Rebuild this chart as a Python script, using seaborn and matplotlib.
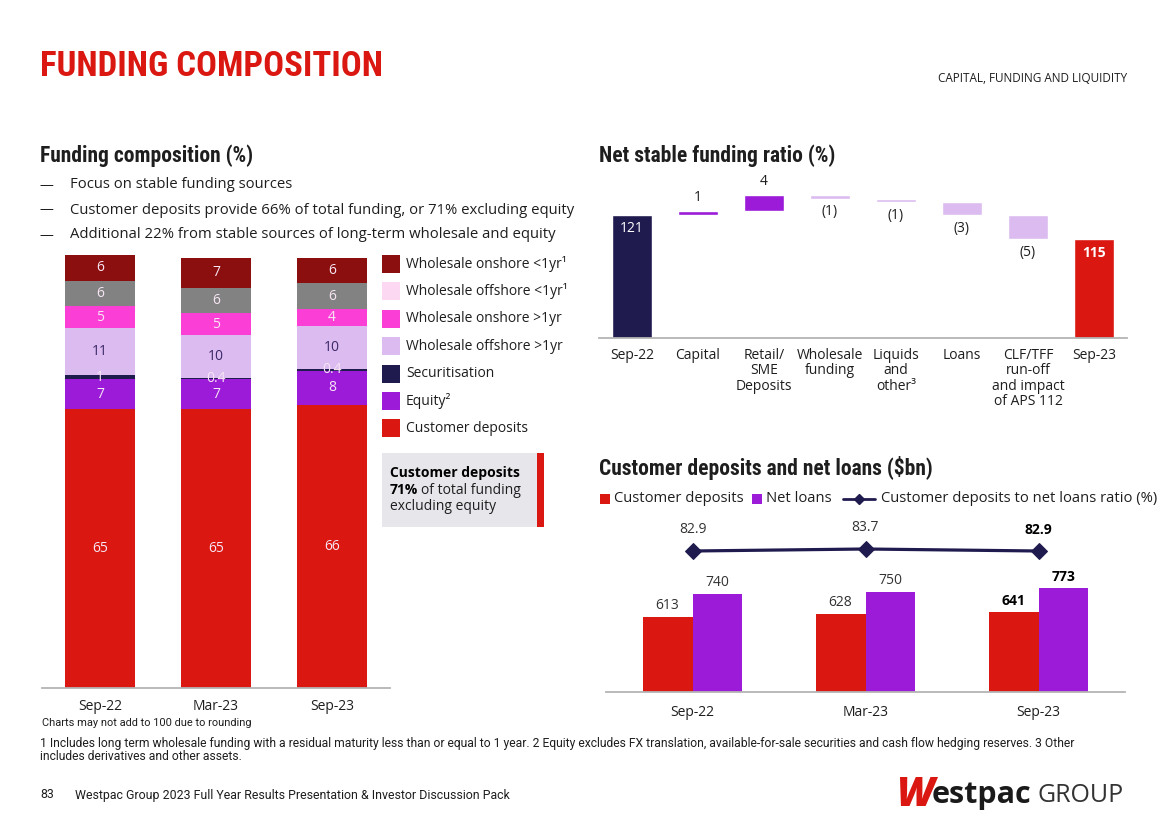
import matplotlib
matplotlib.use('Agg')
import matplotlib.pyplot as plt
import seaborn as sns
import pandas as pd
import numpy as np
from matplotlib import font_manager
from matplotlib.patches import Rectangle
from matplotlib.lines import Line2D

# ---- data -------------------------------------------------------------
periods = ['Sep-22', 'Mar-23', 'Sep-23']

segments = ['Customer deposits', 'Equity²', 'Securitisation', 'Wholesale offshore >1yr',
            'Wholesale onshore >1yr', 'Wholesale offshore <1yr¹', 'Wholesale onshore <1yr¹']
customer_deposits = [65, 65, 66]
equity = [7, 7, 8]
securitisation = [1, 0.4, 0.4]
wholesale_offshore_gt1 = [11, 10, 10]
wholesale_onshore_gt1 = [5, 5, 4]
wholesale_offshore_lt1 = [6, 6, 6]
wholesale_onshore_lt1 = [6, 7, 6]

nsfr_start = 121
nsfr_end = 115
nsfr_steps = ['Capital', 'Retail/\nSME\nDeposits', 'Wholesale\nfunding', 'Liquids\nand\nother³',
              'Loans', 'CLF/TFF\nrun-off\nand impact\nof APS 112']
nsfr_change = [1.1, 4.0, -1.0, -0.9, -3.2, -6.1]
nsfr_change_labels = ['1', '4', '(1)', '(1)', '(3)', '(5)']

deposits_bn = [613, 628, 641]
net_loans_bn = [740, 750, 773]
dep_loan_ratio = [82.9, 83.7, 82.9]

# ---- colours ----------------------------------------------------------
RED = '#da1710'
DARKRED = '#8c0f0f'
GREY = '#828282'
PALEPINK = '#fdd8f3'
PINK = '#fb3fd6'
LILAC = '#dcbcf0'
NAVY = '#201b4f'
PURPLE = '#9b1bd8'
TXT = '#1e1e1e'

sns.set_theme(style='white')
avail = {f.name for f in font_manager.fontManager.ttflist}


def pick(*names):
    for n in names:
        if n in avail:
            return n
    return 'DejaVu Sans'


BODY = pick('Open Sans', 'Lato', 'Noto Sans')
NARROW = pick('Roboto Condensed', 'Liberation Sans Narrow', 'DejaVu Sans')
SMALL = pick('Roboto', 'Liberation Sans', 'DejaVu Sans')
plt.rcParams['font.family'] = [BODY, 'DejaVu Sans']
plt.rcParams['text.color'] = TXT

W, H = 1168, 825
fig = plt.figure(figsize=(W / 100, H / 100), dpi=100, facecolor='white')
renderer = fig.canvas.get_renderer()


def add_ax(x0, y0, x1, y1):
    return fig.add_axes([x0 / W, 1 - y1 / H, (x1 - x0) / W, (y1 - y0) / H])


def ftext(x, y, s, **kw):
    kw.setdefault('va', 'center')
    return fig.text(x / W, 1 - y / H, s, **kw)


def right_of(t, gap=0):
    return t.get_window_extent(renderer).x1 + gap


def frect(x0, y0, x1, y1, color):
    fig.patches.append(Rectangle((x0 / W, 1 - y1 / H), (x1 - x0) / W, (y1 - y0) / H,
                                 transform=fig.transFigure, color=color, lw=0))


def style_axis(ax):
    for s in ['top', 'right', 'left']:
        ax.spines[s].set_visible(False)
    ax.spines['bottom'].set_color('#b4b4b4')
    ax.spines['bottom'].set_linewidth(1.3)
    ax.set_yticks([])
    ax.set_xlabel('')
    ax.set_ylabel('')
    ax.tick_params(axis='x', length=0, labelsize=10, labelcolor=TXT)


# ---- page text --------------------------------------------------------
ftext(40, 67, 'FUNDING COMPOSITION', family=NARROW, weight='bold', size=25, color=RED)
ftext(1127, 78, 'CAPITAL, FUNDING AND LIQUIDITY', size=8.5, ha='right')
ftext(40, 156, 'Funding composition (%)', family=NARROW, weight='bold', size=15.5)
ftext(599, 156, 'Net stable funding ratio (%)', family=NARROW, weight='bold', size=15.5)
ftext(599, 468, 'Customer deposits and net loans ($bn)', family=NARROW, weight='bold', size=15.5)

bullets = ['Focus on stable funding sources',
           'Customer deposits provide 66% of total funding, or 71% excluding equity',
           'Additional 22% from stable sources of long-term wholesale and equity']
for i, b in enumerate(bullets):
    ftext(40, 185 + 25 * i, '—', size=10)
    ftext(70, 185 + 25 * i, b, size=10.7)

# ---- stacked funding composition --------------------------------------
ax1 = add_ax(42, 250, 390, 688)
layers = [customer_deposits, equity, securitisation, wholesale_offshore_gt1,
          wholesale_onshore_gt1, wholesale_offshore_lt1, wholesale_onshore_lt1]
bar_colors = [RED, PURPLE, NAVY, LILAC, PINK, GREY, DARKRED]
df = pd.DataFrame(dict(zip(segments, layers)), index=periods)
cum = df.cumsum(axis=1)
for seg, col in reversed(list(zip(segments, bar_colors))):
    sns.barplot(x=periods, y=cum[seg].values, color=col, width=0.6, saturation=1,
                linewidth=0, edgecolor='none', ax=ax1)
ax1.set_xlim(-0.5, 2.5)
ax1.set_ylim(0, 438 / 4.287)
style_axis(ax1)
ax1.tick_params(axis='x', pad=8)
bottoms = cum - df
for i, p in enumerate(periods):
    for seg in segments:
        v = df.loc[p, seg]
        c = '#3a2766' if seg == 'Wholesale offshore >1yr' else '#f7e6f4'
        ax1.text(i, bottoms.loc[p, seg] + v / 2, f'{v:g}', ha='center', va='center',
                 size=10, color=c)

legend_colors = [DARKRED, PALEPINK, PINK, LILAC, NAVY, PURPLE, RED]
legend_names = ['Wholesale onshore <1yr¹', 'Wholesale offshore <1yr¹', 'Wholesale onshore >1yr',
                'Wholesale offshore >1yr', 'Securitisation', 'Equity²', 'Customer deposits']
for i, (c, n) in enumerate(zip(legend_colors, legend_names)):
    y = 264 + 27.4 * i
    frect(382, y - 9, 400, y + 9, c)
    ftext(406, y, n, size=10)

# callout box
frect(382, 453, 537, 527, '#e6e6eb')
frect(537, 453, 544, 527, RED)
ftext(390, 473, 'Customer deposits', size=10, weight='bold', color='black')
t = ftext(390, 490, '71%', size=10, weight='bold', color='black')
ftext(right_of(t, 3), 490, 'of total funding', size=10)
ftext(390, 507, 'excluding equity', size=10)

# ---- NSFR waterfall ---------------------------------------------------
ax2 = add_ax(599, 170, 1127, 338)
base = 121 - 123 / 4.0
ax2.set_ylim(base, base + 168 / 4.0)
ax2.set_xlim(-0.5, 7.5)
ax2.bar(0, nsfr_start, width=0.62, color=NAVY)
ax2.annotate(f'{nsfr_start}', (0, nsfr_start), xytext=(0, -10), textcoords='offset points',
             ha='center', va='center', color='white', size=10)
running = nsfr_start
for i, (c, lab) in enumerate(zip(nsfr_change, nsfr_change_labels), start=1):
    lo = running if c > 0 else running + c
    ax2.bar(i, abs(c), bottom=lo, width=0.62, color=PURPLE if c > 0 else LILAC)
    if c > 0:
        ax2.annotate(lab, (i, lo + c), xytext=(0, 4), textcoords='offset points',
                     ha='center', va='bottom', size=10)
    else:
        ax2.annotate(lab, (i, lo), xytext=(0, -4), textcoords='offset points',
                     ha='center', va='top', size=10)
    running += c
ax2.bar(7, nsfr_end, width=0.62, color=RED)
ax2.annotate(f'{nsfr_end}', (7, nsfr_end), xytext=(0, -10), textcoords='offset points',
             ha='center', va='center', color='white', size=10, weight='bold')
ax2.set_xticks(range(8))
ax2.set_xticklabels(['Sep-22'] + nsfr_steps + ['Sep-23'], linespacing=1.05, va='top')
style_axis(ax2)
ax2.tick_params(axis='x', pad=7)

# ---- deposits and loans -----------------------------------------------
ax3 = add_ax(606, 510, 1125, 692)
long = pd.DataFrame({'period': periods * 2,
                     'series': ['Customer deposits'] * 3 + ['Net loans'] * 3,
                     'value': deposits_bn + net_loans_bn})
sns.barplot(data=long, x='period', y='value', hue='series', palette=[RED, PURPLE],
            width=0.578, gap=0, saturation=1, legend=False, linewidth=0, ax=ax3)
ax3.set_ylim(199, 199 + 182 / 0.181)
ax3.set_xlim(-0.5, 2.5)
style_axis(ax3)
ax3.tick_params(axis='x', pad=9)
for cont, vals in zip(ax3.containers, [deposits_bn, net_loans_bn]):
    texts = ax3.bar_label(cont, labels=[str(v) for v in vals], padding=3, size=10, color='#333333')
    texts[-1].set_weight('bold')
    texts[-1].set_color('black')

ax3b = ax3.twinx()
sns.lineplot(x=np.arange(3), y=dep_loan_ratio, ax=ax3b, color=NAVY, lw=2.3,
             marker='D', markersize=8, markeredgecolor=NAVY)
ax3b.set_ylim(82.9 - 141 / 2.5, 82.9 + 41 / 2.5)
ax3b.set_xlim(-0.5, 2.5)
ax3b.axis('off')
for i, v in enumerate(dep_loan_ratio):
    t = ax3b.annotate(f'{v}', (i, v), xytext=(0, 10), textcoords='offset points',
                      ha='center', va='bottom', size=10, color='#333333')
    if i == 2:
        t.set_weight('bold')
        t.set_color('black')

# legend
frect(600, 494, 610, 504, RED)
t = ftext(614, 499, 'Customer deposits', size=10.6)
x = right_of(t, 8)
frect(x, 494, x + 10, 504, PURPLE)
t = ftext(x + 14, 499, 'Net loans', size=10.6)
x = right_of(t, 12)
fig.lines.append(Line2D([x / W, (x + 32) / W], [1 - 499 / H] * 2, transform=fig.transFigure,
                        color=NAVY, lw=2, marker=None))
fig.lines.append(Line2D([(x + 16) / W], [1 - 499 / H], transform=fig.transFigure,
                        color=NAVY, marker='D', markersize=5))
ftext(x + 38, 499, 'Customer deposits to net loans ratio (%)', size=10.6)

# ---- footer -----------------------------------------------------------
ftext(42, 723, 'Charts may not add to 100 due to rounding', family=SMALL, size=7.9)
ftext(40, 744, '1 Includes long term wholesale funding with a residual maturity less than or equal to 1 year. '
      '2 Equity excludes FX translation, available-for-sale securities and cash flow hedging reserves. 3 Other',
      family=SMALL, size=8.7)
ftext(40, 757, 'includes derivatives and other assets.', family=SMALL, size=8.7)
ftext(40, 795, '83', family=SMALL, size=8.9)
ftext(75, 795, 'Westpac Group 2023 Full Year Results Presentation & Investor Discussion Pack',
      family=SMALL, size=8.9)

t = ftext(896, 795, 'W', size=29, weight='heavy', style='italic', color=RED)
t = ftext(right_of(t, -2), 795, 'estpac', size=22, weight='bold', color='#1a1a1a')
ftext(right_of(t, 6), 796, 'GROUP', size=18, color='#333333')

fig.savefig('out.png', dpi=100, facecolor='white')
